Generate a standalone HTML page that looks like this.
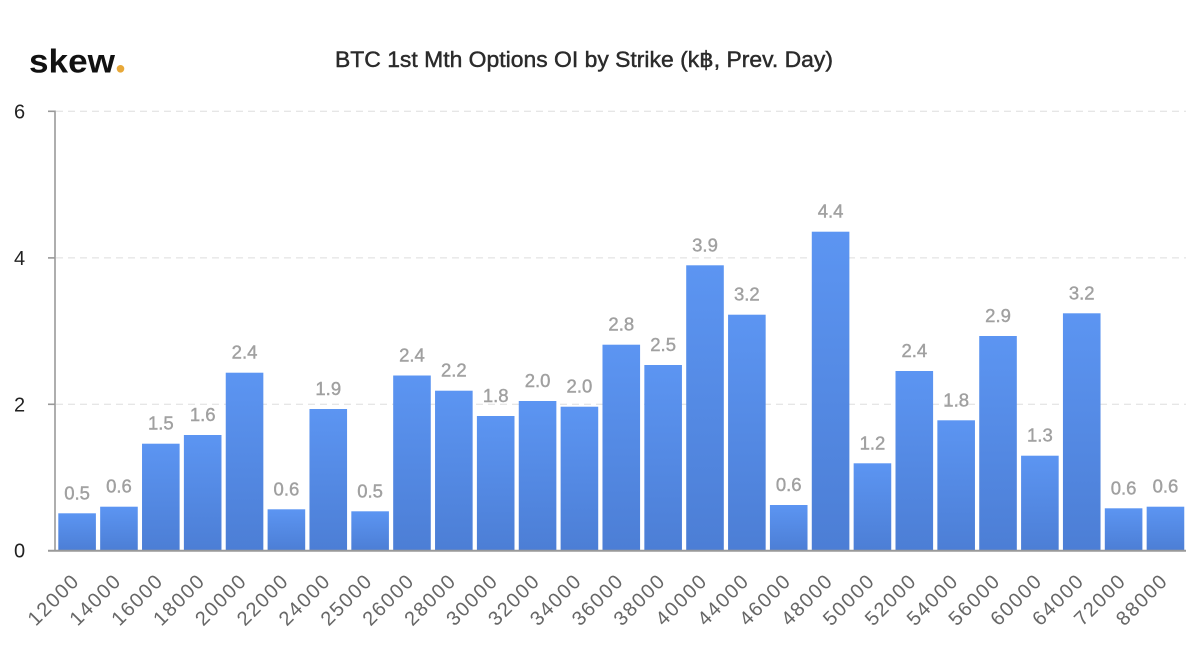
<!DOCTYPE html>
<html>
<head>
<meta charset="utf-8">
<style>
html,body{margin:0;padding:0;background:#fff;}
svg{display:block;}
text{font-family:"Liberation Sans",Arial,sans-serif;}
</style>
</head>
<body>
<svg width="1200" height="670" viewBox="0 0 1200 670" xmlns="http://www.w3.org/2000/svg">
<defs>
<linearGradient id="g" x1="0" y1="0" x2="0" y2="1">
<stop offset="0" stop-color="#5c95f2"/>
<stop offset="1" stop-color="#4c7ed5"/>
</linearGradient>
</defs>
<rect width="1200" height="670" fill="#fff"/>

<!-- logo -->
<text x="29" y="72.5" font-size="33" font-weight="bold" fill="#111" textLength="86" lengthAdjust="spacingAndGlyphs">skew</text>
<circle cx="120.5" cy="68.8" r="3.8" fill="#e8a838"/>

<!-- title -->
<text x="335" y="67" font-size="22" fill="#2b2b2b" stroke="#2b2b2b" stroke-width="0.45" textLength="498" lengthAdjust="spacingAndGlyphs">BTC 1st Mth Options OI by Strike (k฿, Prev. Day)</text>

<!-- gridlines -->
<g stroke="#dedede" stroke-width="1" stroke-dasharray="7,5">
<line x1="56" y1="111.3" x2="1186" y2="111.3"/>
<line x1="56" y1="257.9" x2="1186" y2="257.9"/>
<line x1="56" y1="404.3" x2="1186" y2="404.3"/>
</g>

<!-- y axis -->
<line x1="55" y1="110.5" x2="55" y2="551" stroke="#999" stroke-width="1.6"/>
<g stroke="#999" stroke-width="1.6">
<line x1="48" y1="111.3" x2="55" y2="111.3"/>
<line x1="48" y1="257.9" x2="55" y2="257.9"/>
<line x1="48" y1="404.3" x2="55" y2="404.3"/>
</g>
<g font-size="20" fill="#222" text-anchor="middle">
<text x="19.5" y="118.5">6</text>
<text x="19.5" y="265">4</text>
<text x="19.5" y="411.5">2</text>
<text x="19.5" y="557.5">0</text>
</g>

<!-- bars -->
<g fill="url(#g)">
<rect x="58.3" y="513.3" width="37.6" height="37.7"/>
<rect x="100.16" y="506.7" width="37.6" height="44.3"/>
<rect x="142.02" y="443.7" width="37.6" height="107.3"/>
<rect x="183.88" y="435" width="37.6" height="116"/>
<rect x="225.74" y="372.7" width="37.6" height="178.3"/>
<rect x="267.6" y="509.3" width="37.6" height="41.7"/>
<rect x="309.46" y="409" width="37.6" height="142"/>
<rect x="351.32" y="511.3" width="37.6" height="39.7"/>
<rect x="393.18" y="375.5" width="37.6" height="175.5"/>
<rect x="435.04" y="390.7" width="37.6" height="160.3"/>
<rect x="476.9" y="416" width="37.6" height="135"/>
<rect x="518.76" y="401" width="37.6" height="150"/>
<rect x="560.62" y="406.7" width="37.6" height="144.3"/>
<rect x="602.48" y="344.7" width="37.6" height="206.3"/>
<rect x="644.34" y="365" width="37.6" height="186"/>
<rect x="686.2" y="265.3" width="37.6" height="285.7"/>
<rect x="728.06" y="314.7" width="37.6" height="236.3"/>
<rect x="769.92" y="505" width="37.6" height="46"/>
<rect x="811.78" y="231.7" width="37.6" height="319.3"/>
<rect x="853.64" y="463.3" width="37.6" height="87.7"/>
<rect x="895.5" y="371" width="37.6" height="180"/>
<rect x="937.36" y="420.3" width="37.6" height="130.7"/>
<rect x="979.22" y="336" width="37.6" height="215"/>
<rect x="1021.08" y="455.7" width="37.6" height="95.3"/>
<rect x="1062.94" y="313.3" width="37.6" height="237.7"/>
<rect x="1104.8" y="508.3" width="37.6" height="42.7"/>
<rect x="1146.66" y="506.7" width="37.6" height="44.3"/>
</g>

<!-- x axis -->
<line x1="48" y1="550.7" x2="1186" y2="550.7" stroke="#999" stroke-width="2"/>

<!-- value labels -->
<g font-size="18.5" fill="#a0a0a0" stroke="#a0a0a0" stroke-width="0.4" text-anchor="middle">
<text x="77.1" y="499.3">0.5</text>
<text x="118.96" y="492.7">0.6</text>
<text x="160.82" y="429.7">1.5</text>
<text x="202.68" y="421">1.6</text>
<text x="244.54" y="358.7">2.4</text>
<text x="286.4" y="495.3">0.6</text>
<text x="328.26" y="395">1.9</text>
<text x="370.12" y="497.3">0.5</text>
<text x="411.98" y="361.5">2.4</text>
<text x="453.84" y="376.7">2.2</text>
<text x="495.7" y="402">1.8</text>
<text x="537.56" y="387">2.0</text>
<text x="579.42" y="392.7">2.0</text>
<text x="621.28" y="330.7">2.8</text>
<text x="663.14" y="351">2.5</text>
<text x="705" y="251.3">3.9</text>
<text x="746.86" y="300.7">3.2</text>
<text x="788.72" y="491">0.6</text>
<text x="830.58" y="217.7">4.4</text>
<text x="872.44" y="449.3">1.2</text>
<text x="914.3" y="357">2.4</text>
<text x="956.16" y="406.3">1.8</text>
<text x="998.02" y="322">2.9</text>
<text x="1039.88" y="441.7">1.3</text>
<text x="1081.74" y="299.3">3.2</text>
<text x="1123.6" y="494.3">0.6</text>
<text x="1165.46" y="492.7">0.6</text>
</g>

<!-- x labels -->
<g font-size="20" fill="#666" text-anchor="end">
<text transform="translate(79.6,583) rotate(-45)" textLength="62" lengthAdjust="spacing">12000</text>
<text transform="translate(121.46,583) rotate(-45)" textLength="62" lengthAdjust="spacing">14000</text>
<text transform="translate(163.32,583) rotate(-45)" textLength="62" lengthAdjust="spacing">16000</text>
<text transform="translate(205.18,583) rotate(-45)" textLength="62" lengthAdjust="spacing">18000</text>
<text transform="translate(247.04,583) rotate(-45)" textLength="62" lengthAdjust="spacing">20000</text>
<text transform="translate(288.9,583) rotate(-45)" textLength="62" lengthAdjust="spacing">22000</text>
<text transform="translate(330.76,583) rotate(-45)" textLength="62" lengthAdjust="spacing">24000</text>
<text transform="translate(372.62,583) rotate(-45)" textLength="62" lengthAdjust="spacing">25000</text>
<text transform="translate(414.48,583) rotate(-45)" textLength="62" lengthAdjust="spacing">26000</text>
<text transform="translate(456.34,583) rotate(-45)" textLength="62" lengthAdjust="spacing">28000</text>
<text transform="translate(498.2,583) rotate(-45)" textLength="62" lengthAdjust="spacing">30000</text>
<text transform="translate(540.06,583) rotate(-45)" textLength="62" lengthAdjust="spacing">32000</text>
<text transform="translate(581.92,583) rotate(-45)" textLength="62" lengthAdjust="spacing">34000</text>
<text transform="translate(623.78,583) rotate(-45)" textLength="62" lengthAdjust="spacing">36000</text>
<text transform="translate(665.64,583) rotate(-45)" textLength="62" lengthAdjust="spacing">38000</text>
<text transform="translate(707.5,583) rotate(-45)" textLength="62" lengthAdjust="spacing">40000</text>
<text transform="translate(749.36,583) rotate(-45)" textLength="62" lengthAdjust="spacing">44000</text>
<text transform="translate(791.22,583) rotate(-45)" textLength="62" lengthAdjust="spacing">46000</text>
<text transform="translate(833.08,583) rotate(-45)" textLength="62" lengthAdjust="spacing">48000</text>
<text transform="translate(874.94,583) rotate(-45)" textLength="62" lengthAdjust="spacing">50000</text>
<text transform="translate(916.8,583) rotate(-45)" textLength="62" lengthAdjust="spacing">52000</text>
<text transform="translate(958.66,583) rotate(-45)" textLength="62" lengthAdjust="spacing">54000</text>
<text transform="translate(1000.52,583) rotate(-45)" textLength="62" lengthAdjust="spacing">56000</text>
<text transform="translate(1042.38,583) rotate(-45)" textLength="62" lengthAdjust="spacing">60000</text>
<text transform="translate(1084.24,583) rotate(-45)" textLength="62" lengthAdjust="spacing">64000</text>
<text transform="translate(1126.1,583) rotate(-45)" textLength="62" lengthAdjust="spacing">72000</text>
<text transform="translate(1167.96,583) rotate(-45)" textLength="62" lengthAdjust="spacing">88000</text>
</g>
</svg>
</body>
</html>
